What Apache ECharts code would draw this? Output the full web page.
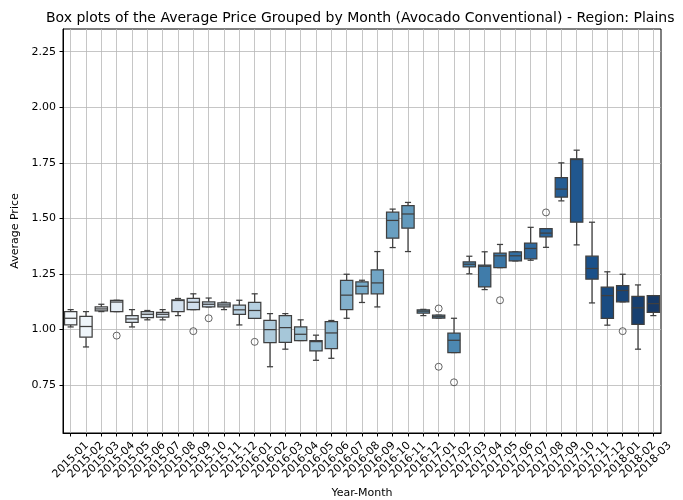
<!DOCTYPE html>
<html>
<head>
<meta charset="utf-8">
<script src="https://cdn.jsdelivr.net/npm/echarts@6/dist/echarts.min.js"></script>
<style>
  html, body { margin: 0; padding: 0; background: #fff; }
  #chart { width: 683px; height: 500px; }
</style>
</head>
<body>
<div id="chart"></div>
<script>
// Monthly distribution of conventional avocado prices, Plains region
const months = [
  '2015-01','2015-02','2015-03','2015-04','2015-05','2015-06','2015-07','2015-08','2015-09','2015-10','2015-11','2015-12',
  '2016-01','2016-02','2016-03','2016-04','2016-05','2016-06','2016-07','2016-08','2016-09','2016-10','2016-11','2016-12',
  '2017-01','2017-02','2017-03','2017-04','2017-05','2017-06','2017-07','2017-08','2017-09','2017-10','2017-11','2017-12',
  '2018-01','2018-02','2018-03'
];
const lowWhisker = [
  1.012, 0.922, 1.081, 1.081, 1.012, 1.044, 1.044, 1.063, 1.090, 1.102, 1.090, 1.021,
  1.051, 0.833, 0.912, 0.951, 0.862, 0.871, 1.051, 1.122, 1.102, 1.369, 1.351, 1.063,
  1.052, 0.897, 1.251, 1.180, 1.279, 1.309, 1.312, 1.370, 1.579, 1.381, 1.120, 1.020,
  1.125, 0.912, 1.063
];
const q1 = [
  1.021, 0.966, 1.084, 1.081, 1.033, 1.054, 1.056, 1.081, 1.090, 1.102, 1.102, 1.068,
  1.051, 0.941, 0.943, 0.951, 0.904, 0.915, 1.090, 1.161, 1.161, 1.411, 1.456, 1.074,
  1.052, 0.897, 1.282, 1.192, 1.279, 1.309, 1.318, 1.417, 1.596, 1.483, 1.227, 1.051,
  1.125, 1.024, 1.077
];
const median = [
  1.051, 1.014, 1.093, 1.124, 1.048, 1.069, 1.069, 1.131, 1.123, 1.114, 1.111, 1.089,
  1.086, 1.000, 1.009, 0.979, 0.946, 0.985, 1.155, 1.195, 1.210, 1.491, 1.520, 1.083,
  1.058, 0.952, 1.294, 1.285, 1.332, 1.332, 1.365, 1.434, 1.632, 1.765, 1.275, 1.153,
  1.176, 1.098, 1.117
];
const q3 = [
  1.081, 1.059, 1.102, 1.132, 1.063, 1.081, 1.078, 1.134, 1.140, 1.125, 1.120, 1.110,
  1.122, 1.042, 1.063, 1.012, 0.951, 1.036, 1.221, 1.215, 1.269, 1.528, 1.558, 1.089,
  1.065, 0.984, 1.305, 1.290, 1.344, 1.350, 1.389, 1.454, 1.683, 1.768, 1.330, 1.191,
  1.198, 1.149, 1.153
];
const highWhisker = [
  1.090, 1.081, 1.114, 1.132, 1.090, 1.086, 1.090, 1.140, 1.161, 1.142, 1.123, 1.132,
  1.161, 1.072, 1.072, 1.044, 0.975, 1.041, 1.249, 1.222, 1.351, 1.542, 1.572, 1.091,
  1.065, 1.051, 1.330, 1.350, 1.383, 1.350, 1.460, 1.454, 1.750, 1.807, 1.483, 1.260,
  1.249, 1.201, 1.153
];
// Points beyond the whiskers
const outlierMonths = ['2015-04','2015-09','2015-10','2016-01','2017-01','2017-01','2017-02','2017-05','2017-08','2018-01'];
const outlierValues = [0.973, 0.993, 1.051, 0.945, 1.095, 0.833, 0.763, 1.132, 1.527, 0.993];
const yTicks = [0.75, 1.00, 1.25, 1.50, 1.75, 2.00, 2.25];

const FONT = 'DejaVu Sans';
const EDGE = '#3f3f3f';
const GRID = '#b8b8b8';

// Sequential "Blues" colour ramp, softened like a seaborn palette
const bluesStops = ['#f7fbff','#deebf7','#c6dbef','#9ecae1','#6baed6','#4292c6','#2171b5','#08519c','#08306b'];
function hexToRgb(h) { return [1,3,5].map(k => parseInt(h.substr(k, 2), 16) / 255); }
function rampColor(t) {
  const pos = t * (bluesStops.length - 1);
  const k = Math.min(Math.floor(pos), bluesStops.length - 2);
  const f = pos - k;
  const a = hexToRgb(bluesStops[k]), b = hexToRgb(bluesStops[k + 1]);
  return a.map((v, j) => v + (b[j] - v) * f);
}
function rgbToHls([r, g, b]) {
  const mx = Math.max(r, g, b), mn = Math.min(r, g, b);
  const l = (mx + mn) / 2;
  if (mx === mn) return [0, l, 0];
  const d = mx - mn;
  const s = l <= 0.5 ? d / (mx + mn) : d / (2 - mx - mn);
  let h;
  if (mx === r) h = ((g - b) / d) % 6;
  else if (mx === g) h = (b - r) / d + 2;
  else h = (r - g) / d + 4;
  h /= 6; if (h < 0) h += 1;
  return [h, l, s];
}
function hlsToRgb([h, l, s]) {
  if (s === 0) return [l, l, l];
  const q = l < 0.5 ? l * (1 + s) : l + s - l * s;
  const p = 2 * l - q;
  const hue = t => {
    if (t < 0) t += 1; if (t > 1) t -= 1;
    if (t < 1 / 6) return p + (q - p) * 6 * t;
    if (t < 1 / 2) return q;
    if (t < 2 / 3) return p + (q - p) * (2 / 3 - t) * 6;
    return p;
  };
  return [hue(h + 1 / 3), hue(h), hue(h - 1 / 3)];
}
function paletteColor(i, n) {
  const hls = rgbToHls(rampColor((i + 1) / (n + 1)));
  hls[2] *= 0.75;
  const rgb = hlsToRgb(hls).map(v => Math.round(v * 255));
  return 'rgb(' + rgb.join(',') + ')';
}
const boxColors = months.map((m, i) => paletteColor(i, months.length));
const monthPositions = months.map((m, i) => i);

const boxData = months.map((m, i) => [i, lowWhisker[i], q1[i], median[i], q3[i], highWhisker[i]]);
const outlierData = outlierMonths.map((m, k) => [months.indexOf(m), outlierValues[k]]);

function renderBox(params, api) {
  const i = api.value(0);
  const lo = api.coord([i, api.value(1)]);
  const b1 = api.coord([i, api.value(2)]);
  const md = api.coord([i, api.value(3)]);
  const b3 = api.coord([i, api.value(4)]);
  const hi = api.coord([i, api.value(5)]);
  const band = api.size([1, 0])[0];
  const hw = band * 0.4, cw = band * 0.2;
  const x = lo[0];
  const ls = { stroke: EDGE, lineWidth: 1.25 };
  return {
    type: 'group',
    children: [
      { type: 'line', shape: { x1: x, y1: b1[1], x2: x, y2: lo[1] }, style: ls },
      { type: 'line', shape: { x1: x, y1: b3[1], x2: x, y2: hi[1] }, style: ls },
      { type: 'line', shape: { x1: x - cw, y1: lo[1], x2: x + cw, y2: lo[1] }, style: ls },
      { type: 'line', shape: { x1: x - cw, y1: hi[1], x2: x + cw, y2: hi[1] }, style: ls },
      { type: 'rect', shape: { x: x - hw, y: b3[1], width: 2 * hw, height: b1[1] - b3[1] },
        style: { fill: boxColors[params.dataIndex], stroke: EDGE, lineWidth: 1.25 } },
      { type: 'line', shape: { x1: x - hw, y1: md[1], x2: x + hw, y2: md[1] }, style: ls }
    ]
  };
}

const chart = echarts.init(document.getElementById('chart'), null, { renderer: 'canvas' });
chart.setOption({
  animation: false,
  backgroundColor: '#ffffff',
  title: {
    text: 'Box plots of the Average Price Grouped by Month (Avocado Conventional) - Region: Plains',
    left: 41, top: 6,
    textStyle: { fontFamily: FONT, fontSize: 14, fontWeight: 'normal', color: '#000' }
  },
  grid: {
    left: 63, right: 22, top: 29, bottom: 67,
    outerBoundsMode: 'none',
    containLabel: false,
    show: true, borderColor: '#000', borderWidth: 1, backgroundColor: 'transparent'
  },
  xAxis: {
    type: 'value',
    min: -0.5, max: months.length - 0.5,
    name: 'Year-Month',
    nameLocation: 'middle',
    nameGap: 55,
    nameTextStyle: { fontFamily: FONT, fontSize: 11, color: '#000' },
    axisLine: { show: true, onZero: false, lineStyle: { color: '#000', width: 1 } },
    axisTick: { show: true, length: 3.5, customValues: monthPositions, lineStyle: { color: '#000' } },
    axisLabel: {
      customValues: monthPositions,
      formatter: v => months[Math.round(v)],
      rotate: 45, align: 'center', verticalAlign: 'middle', margin: 27,
      fontFamily: FONT, fontSize: 11, color: '#000'
    },
    splitLine: { show: true, lineStyle: { color: GRID, width: 0.8 } }
  },
  yAxis: {
    type: 'value',
    min: 0.535, max: 2.352,
    name: 'Average Price',
    nameLocation: 'middle',
    nameRotate: 90,
    nameGap: 41,
    nameTextStyle: { fontFamily: FONT, fontSize: 11, color: '#000' },
    axisLine: { show: true, onZero: false, lineStyle: { color: '#000', width: 1 } },
    axisTick: { show: true, length: 3.5, customValues: yTicks, lineStyle: { color: '#000' } },
    axisLabel: {
      customValues: yTicks, margin: 7,
      formatter: v => v.toFixed(2),
      fontFamily: FONT, fontSize: 11, color: '#000'
    },
    splitLine: { show: true, lineStyle: { color: GRID, width: 0.8 } }
  },
  series: [
    {
      type: 'custom',
      renderItem: renderBox,
      data: boxData,
      encode: { x: 0, y: [1, 2, 3, 4, 5] },
      z: 2
    },
    {
      type: 'scatter',
      data: outlierData,
      symbol: 'circle',
      symbolSize: 7,
      itemStyle: { color: 'rgba(255,255,255,0)', borderColor: EDGE, borderWidth: 1 },
      z: 3
    }
  ]
});
</script>
</body>
</html>
